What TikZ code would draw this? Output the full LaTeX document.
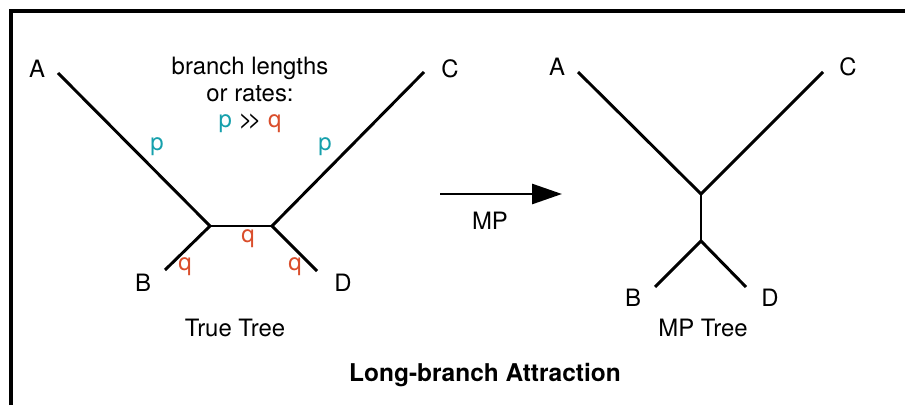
\documentclass[tikz,border=0pt]{standalone}
\usepackage{fontspec}
\setmainfont{TeX Gyre Heros}
\usetikzlibrary{arrows.meta,positioning}
\definecolor{rateP}{RGB}{22,160,172}
\definecolor{rateQ}{RGB}{218,78,44}
\newcommand{\labfont}{\fontsize{17}{19.5}\selectfont}
\tikzset{
  branch/.style={line width=2.1pt,line cap=butt},
  taxon/.style={font=\labfont,inner sep=0pt},
  rate/.style={font=\labfont,inner sep=0pt,text=#1},
  rate/.default=rateQ,
  caption/.style={font=\labfont,inner sep=0pt,align=center},
}

\begin{document}
\begin{tikzpicture}
  \useasboundingbox (0,0) rectangle (22.625,10.125);
  % frame: top and left edge only
  \draw[line width=3pt] (0.275,0) -- (0.275,9.85) -- (22.625,9.85);

  % true tree
  \coordinate (tA) at (1.45,8.3);
  \coordinate (tC) at (10.6,8.325);
  \coordinate (tB) at (4.125,3.375);
  \coordinate (tD) at (7.925,3.35);
  \coordinate (tL) at (5.25,4.475);
  \coordinate (tR) at (6.8,4.475);
  \draw[branch] (tA) -- (tL) -- (tB);
  \draw[branch] (tL) -- (tR);
  \draw[branch] (tC) -- (tR) -- (tD);
  \node[taxon] (lA) at (0.925,8.4) {A};
  \node[taxon] (lC) at (11.25,8.4) {C};
  \node[taxon] (lB) at (3.575,3.05) {B};
  \node[taxon] (lD) at (8.575,3.05) {D};
  \node[rate=rateP] (pA) at (3.925,6.45) {p};
  \node[rate=rateP] (pC) at (8.125,6.45) {p};
  \node[rate] (qB) at (4.625,3.45) {q};
  \node[rate] (qM) at (6.2,4.15) {q};
  \node[rate] (qD) at (7.375,3.45) {q};
  \node[caption] (key) at (6.25,7.75) {branch lengths\\[-0.5pt]or rates:\\[-0.5pt]\textcolor{rateP}{p} \mbox{>}\kern-3.5pt\mbox{>} \textcolor{rateQ}{q}};
  \node[caption] (trueT) at (5.875,1.925) {True Tree};

  % MP step
  \coordinate (mpS) at (11.0,5.275);
  \coordinate (mpE) at (14.05,5.275);
  \draw[line width=2pt,-{Triangle[length=7.5mm,width=5mm]}] (mpS) -- (mpE);
  \node[caption] (mp) at (12.25,4.6) {MP};

  % MP tree
  \coordinate (mA) at (14.45,8.325);
  \coordinate (mC) at (20.575,8.325);
  \coordinate (mU) at (17.525,5.275);
  \coordinate (mL) at (17.525,4.1);
  \coordinate (mB) at (16.375,2.95);
  \coordinate (mD) at (18.65,2.95);
  \draw[branch] (mA) -- (mU) -- (mC);
  \draw[branch] (mU) -- (mL);
  \draw[branch] (mB) -- (mL) -- (mD);
  \node[taxon] (nA) at (13.925,8.45) {A};
  \node[taxon] (nC) at (21.2,8.45) {C};
  \node[taxon] (nB) at (15.825,2.675) {B};
  \node[taxon] (nD) at (19.25,2.675) {D};
  \node[caption] (mpT) at (17.575,1.925) {MP Tree};

  \node[caption,font=\fontsize{17.4}{20}\selectfont\bfseries] (title) at (12.125,0.75) {Long-branch Attraction};
\end{tikzpicture}
\end{document}
